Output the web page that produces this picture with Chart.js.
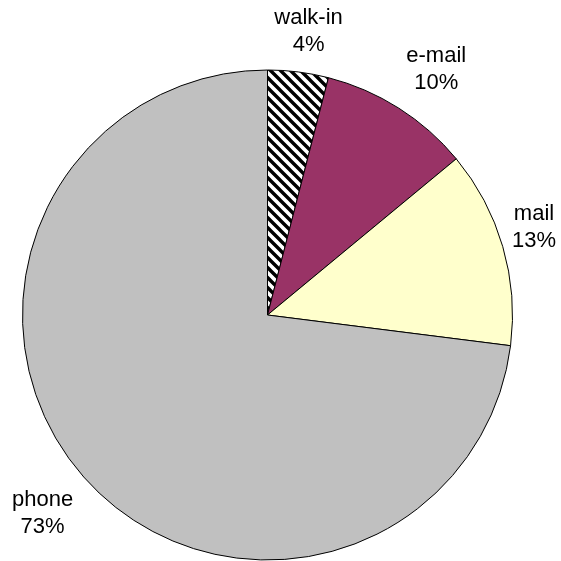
<!DOCTYPE html>
<html>
<head>
<meta charset="utf-8">
<script src="https://cdn.jsdelivr.net/npm/chart.js@4/dist/chart.umd.min.js"></script>
<style>
  html, body { margin: 0; padding: 0; background: #fff; }
  #wrap { width: 561px; height: 561px; }
</style>
</head>
<body>
<div id="wrap"><canvas id="contactPie"></canvas></div>
<script>
  // contact channels, clockwise from 12 o'clock
  const channels = ['walk-in', 'e-mail', 'mail', 'phone'];
  const shares = [4, 10, 13, 73];
  const sliceColors = ['hatch', '#993366', '#FFFFCC', '#C0C0C0'];

  // black/white diagonal stripes for the walk-in slice
  function makeHatch() {
    const s = 10;
    const c = document.createElement('canvas');
    c.width = s; c.height = s;
    const g = c.getContext('2d');
    g.fillStyle = '#fff';
    g.fillRect(0, 0, s, s);
    g.strokeStyle = '#000';
    g.lineWidth = 3.4;
    g.beginPath();
    g.moveTo(-s, -s); g.lineTo(2 * s, 2 * s);
    g.moveTo(-s, 0); g.lineTo(s, 2 * s);
    g.moveTo(0, -s); g.lineTo(2 * s, s);
    g.stroke();
    return g.createPattern(c, 'repeat');
  }

  const ctx = document.getElementById('contactPie').getContext('2d');
  const fills = sliceColors.map(c => c === 'hatch' ? makeHatch() : c);

  // labels outside each slice: name on top, percentage below
  const outsideLabels = {
    id: 'outsideLabels',
    afterDatasetsDraw(chart) {
      const c = chart.ctx;
      const meta = chart.getDatasetMeta(0);
      const total = shares.reduce((a, b) => a + b, 0);
      const lineH = 27;
      const gap = 14;
      c.save();
      c.font = '22px "Liberation Sans", Arial, sans-serif';
      c.fillStyle = '#000';
      c.textAlign = 'center';
      c.textBaseline = 'middle';
      meta.data.forEach((arc, i) => {
        const mid = (arc.startAngle + arc.endAngle) / 2;
        const dx = Math.cos(mid), dy = Math.sin(mid);
        const lines = [channels[i], Math.round(shares[i] / total * 100) + '%'];
        const w = Math.max(...lines.map(t => c.measureText(t).width));
        const h = lineH * 2;
        // anchor point just outside the rim, box pushed away from it
        const d = arc.outerRadius + gap;
        const fx = Math.min(1, Math.abs(dx) / 0.5) * Math.sign(dx);
        const fy = Math.min(1, Math.abs(dy) / 0.5) * Math.sign(dy);
        let x = arc.x + dx * d + fx * w / 2;
        let y = arc.y + dy * d + fy * h / 2;
        // keep the box inside the canvas
        x = Math.min(x, chart.width - 5 - w / 2);
        x = Math.max(x, 5 + w / 2);
        c.fillText(lines[0], x, y - lineH / 2);
        c.fillText(lines[1], x, y + lineH / 2);
      });
      c.restore();
    }
  };

  new Chart(ctx, {
    type: 'pie',
    data: {
      labels: channels,
      datasets: [{
        data: shares,
        backgroundColor: fills,
        borderColor: '#000',
        borderWidth: 1,
        hoverOffset: 0
      }]
    },
    options: {
      responsive: true,
      maintainAspectRatio: false,
      animation: false,
      events: [],
      layout: { padding: { left: 22, right: 48, top: 69, bottom: 0 } },
      plugins: {
        legend: { display: false },
        tooltip: { enabled: false },
        title: { display: false }
      }
    },
    plugins: [outsideLabels]
  });
</script>
</body>
</html>
